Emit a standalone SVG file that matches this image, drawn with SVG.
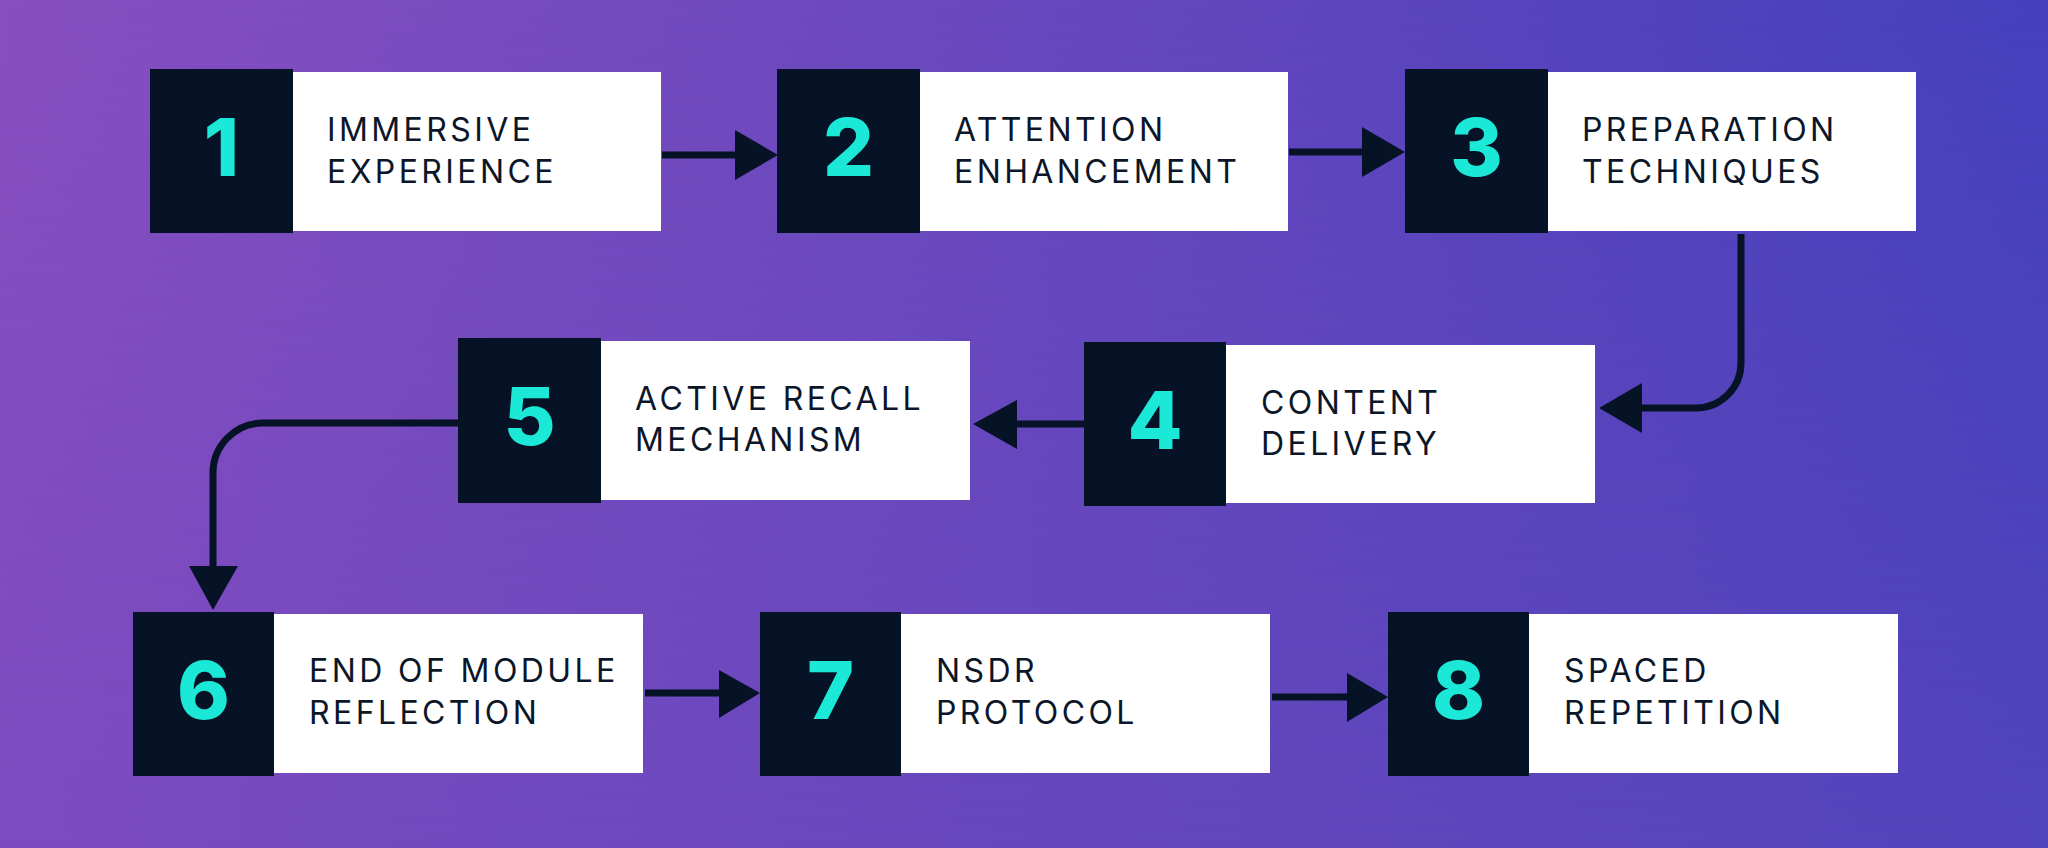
<svg xmlns="http://www.w3.org/2000/svg" width="2048" height="848" viewBox="0 0 2048 848">
  <defs>
    <linearGradient id="bgTop" x1="0" y1="0" x2="1" y2="0">
      <stop offset="0" stop-color="#874fc0"/>
      <stop offset="0.5" stop-color="#6848be"/>
      <stop offset="1" stop-color="#4540bd"/>
    </linearGradient>
    <linearGradient id="bgBot" x1="0" y1="0" x2="1" y2="0">
      <stop offset="0" stop-color="#7c4bbf"/>
      <stop offset="0.5" stop-color="#6647bd"/>
      <stop offset="1" stop-color="#5244bc"/>
    </linearGradient>
    <linearGradient id="fadeV" x1="0" y1="0" x2="0" y2="1">
      <stop offset="0" stop-color="#fff" stop-opacity="0"/>
      <stop offset="1" stop-color="#fff" stop-opacity="1"/>
    </linearGradient>
    <mask id="mBot">
      <rect x="0" y="0" width="2048" height="848" fill="url(#fadeV)"/>
    </mask>
    <style>
      .dark { fill: #061326; }
      .card { fill: #ffffff; }
      .num { font-family: Inter, "DejaVu Sans", sans-serif; font-weight: 800; font-size: 80px; fill: #1be8d6; text-anchor: middle; }
      .lbl { font-family: Inter, "DejaVu Sans", sans-serif; font-weight: 400; font-size: 32px; fill: #0b1628; letter-spacing: 3.4px; }
      .line { fill: none; stroke: #061326; stroke-width: 7; }
      .head { fill: #061326; }
    </style>
  </defs>

  <rect x="0" y="0" width="2048" height="848" fill="url(#bgTop)"/>
  <rect x="0" y="0" width="2048" height="848" fill="url(#bgBot)" mask="url(#mBot)"/>

  <g id="connectors">
    <line class="line" x1="662" y1="155" x2="738" y2="155"/>
    <polygon class="head" points="735,130 778,155 735,180"/>

    <line class="line" x1="1289" y1="152" x2="1365" y2="152"/>
    <polygon class="head" points="1362,127 1405,152 1362,177"/>

    <path class="line" d="M1741 234 V363 A45 45 0 0 1 1696 408 H1638"/>
    <polygon class="head" points="1642,383 1599,408 1642,433"/>

    <line class="line" x1="1084" y1="424" x2="1013" y2="424"/>
    <polygon class="head" points="1017,400 973,424 1017,449"/>

    <path class="line" d="M458 423 H263 A50 50 0 0 0 213 473 V570"/>
    <polygon class="head" points="189,566 213,610 238,566"/>

    <line class="line" x1="645" y1="693" x2="722" y2="693"/>
    <polygon class="head" points="719,670 760,693 719,718"/>

    <line class="line" x1="1272" y1="697" x2="1350" y2="697"/>
    <polygon class="head" points="1347,673 1388,697 1347,722"/>
  </g>

  <g id="node1">
    <rect class="card" x="293" y="72" width="368" height="159"/>
    <rect class="dark" x="150" y="69" width="143" height="164"/>
    <text class="num" x="221.5" y="176">1</text>
    <text class="lbl" x="327" y="141">IMMERSIVE</text>
    <text class="lbl" x="327" y="183">EXPERIENCE</text>
  </g>

  <g id="node2">
    <rect class="card" x="920" y="72" width="368" height="159"/>
    <rect class="dark" x="777" y="69" width="143" height="164"/>
    <text class="num" x="848.5" y="176">2</text>
    <text class="lbl" x="954" y="141">ATTENTION</text>
    <text class="lbl" x="954" y="183">ENHANCEMENT</text>
  </g>

  <g id="node3">
    <rect class="card" x="1548" y="72" width="368" height="159"/>
    <rect class="dark" x="1405" y="69" width="143" height="164"/>
    <text class="num" x="1476.5" y="176">3</text>
    <text class="lbl" x="1582" y="141">PREPARATION</text>
    <text class="lbl" x="1582" y="183">TECHNIQUES</text>
  </g>

  <g id="node4">
    <rect class="card" x="1226" y="345" width="369" height="158"/>
    <rect class="dark" x="1084" y="342" width="142" height="164"/>
    <text class="num" x="1155" y="449">4</text>
    <text class="lbl" x="1261" y="414">CONTENT</text>
    <text class="lbl" x="1261" y="455">DELIVERY</text>
  </g>

  <g id="node5">
    <rect class="card" x="601" y="341" width="369" height="159"/>
    <rect class="dark" x="458" y="338" width="143" height="165"/>
    <text class="num" x="529.5" y="445">5</text>
    <text class="lbl" x="635" y="410">ACTIVE RECALL</text>
    <text class="lbl" x="635" y="451">MECHANISM</text>
  </g>

  <g id="node6">
    <rect class="card" x="274" y="614" width="369" height="159"/>
    <rect class="dark" x="133" y="612" width="141" height="164"/>
    <text class="num" x="203.5" y="719">6</text>
    <text class="lbl" x="309" y="682">END OF MODULE</text>
    <text class="lbl" x="309" y="724">REFLECTION</text>
  </g>

  <g id="node7">
    <rect class="card" x="901" y="614" width="369" height="159"/>
    <rect class="dark" x="760" y="612" width="141" height="164"/>
    <text class="num" x="830.5" y="719">7</text>
    <text class="lbl" x="936" y="682">NSDR</text>
    <text class="lbl" x="936" y="724">PROTOCOL</text>
  </g>

  <g id="node8">
    <rect class="card" x="1529" y="614" width="369" height="159"/>
    <rect class="dark" x="1388" y="612" width="141" height="164"/>
    <text class="num" x="1458.5" y="719">8</text>
    <text class="lbl" x="1564" y="682">SPACED</text>
    <text class="lbl" x="1564" y="724">REPETITION</text>
  </g>
</svg>
